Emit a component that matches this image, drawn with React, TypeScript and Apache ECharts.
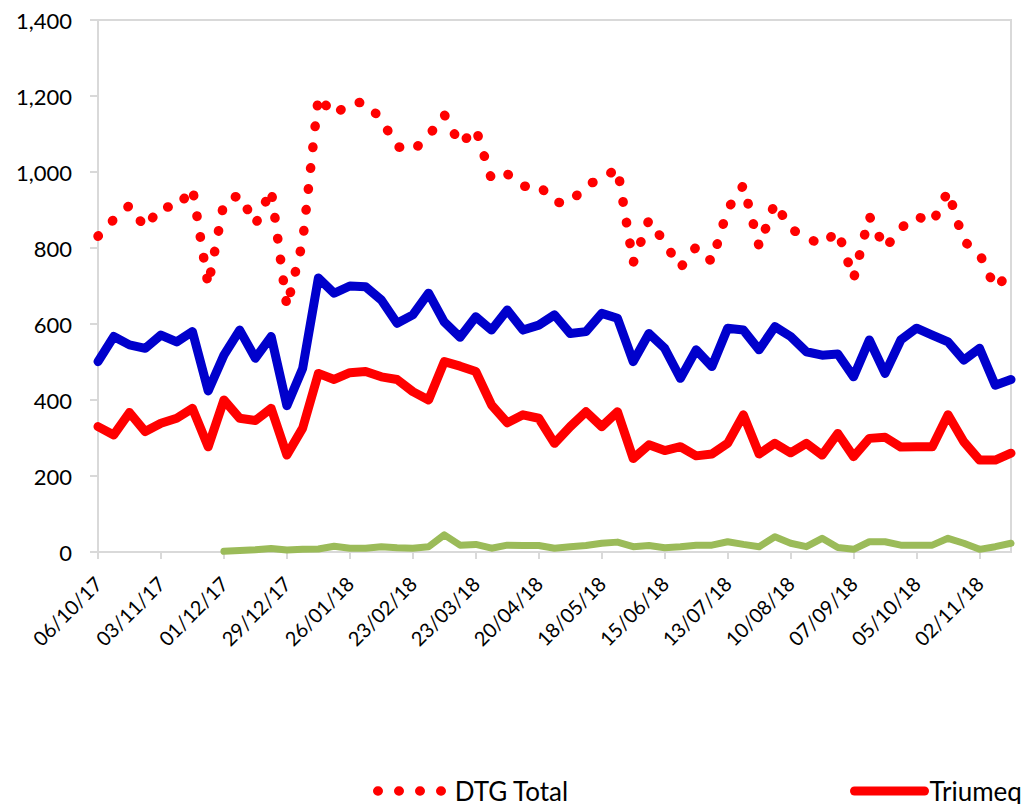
import React, { useEffect, useRef } from "react";
import * as echarts from "echarts";

// Weekly reporting dates (week ending)
const weeks: string[] = [
  "06/10/17", "13/10/17", "20/10/17", "27/10/17", "03/11/17", "10/11/17", "17/11/17", "24/11/17",
  "01/12/17", "08/12/17", "15/12/17", "22/12/17", "29/12/17", "05/01/18", "12/01/18", "19/01/18",
  "26/01/18", "02/02/18", "09/02/18", "16/02/18", "23/02/18", "02/03/18", "09/03/18", "16/03/18",
  "23/03/18", "30/03/18", "06/04/18", "13/04/18", "20/04/18", "27/04/18", "04/05/18", "11/05/18",
  "18/05/18", "25/05/18", "01/06/18", "08/06/18", "15/06/18", "22/06/18", "29/06/18", "06/07/18",
  "13/07/18", "20/07/18", "27/07/18", "03/08/18", "10/08/18", "17/08/18", "24/08/18", "31/08/18",
  "07/09/18", "14/09/18", "21/09/18", "28/09/18", "05/10/18", "12/10/18", "19/10/18", "26/10/18",
  "02/11/18", "09/11/18", "16/11/18",
];

const dtgTotal: number[] = [
  831, 875, 912, 853, 910, 905, 958, 701, 920, 940, 862, 954, 645, 816, 1199, 1150,
  1182, 1183, 1138, 1067, 1056, 1095, 1151, 1072, 1114, 981, 995, 962, 966, 920, 919, 966,
  981, 1010, 761, 874, 814, 748, 803, 764, 902, 965, 804, 919, 851, 827, 809, 845,
  719, 884, 799, 852, 884, 866, 950, 818, 785, 695, 737,
];

const triumeq: number[] = [
  330, 308, 367, 317, 339, 352, 378, 277, 400, 352, 346, 378, 255, 326, 470, 454,
  472, 475, 461, 454, 422, 400, 501, 489, 475, 387, 340, 361, 352, 286, 330, 369,
  330, 369, 246, 282, 267, 277, 253, 258, 286, 361, 258, 286, 261, 286, 255, 312,
  251, 299, 302, 276, 277, 277, 361, 290, 242, 242, 260,
];

const tivicay: number[] = [
  501, 567, 545, 536, 571, 553, 580, 424, 518, 584, 510, 567, 385, 483, 721, 681,
  700, 698, 663, 602, 624, 681, 605, 565, 619, 584, 637, 584, 597, 624, 575, 580,
  628, 615, 501, 575, 536, 457, 532, 488, 589, 584, 532, 593, 567, 527, 518, 521,
  461, 558, 470, 558, 589, 571, 553, 505, 536, 439, 454,
];

const juluca: (number | null)[] = [
  null, null, null, null, null, null, null, null, 2, 4, 6, 9, 5, 7, 8, 15,
  10, 10, 14, 11, 10, 14, 45, 18, 20, 10, 18, 17, 17, 10, 14, 17,
  23, 26, 14, 17, 11, 14, 18, 18, 27, 20, 14, 40, 23, 14, 36, 12,
  7, 27, 27, 18, 18, 18, 36, 23, 7, 14, 23,
];

const yTicks = { min: 0, max: 1400, step: 200 };

const FONT = "Lato, 'Open Sans', sans-serif";
const GREY = "#d9d9d9";
const DOT_DASH = [0.5, 20.5];

export default function App() {
  const ref = useRef<HTMLDivElement>(null);

  useEffect(() => {
    if (!ref.current) return;
    const chart = echarts.init(ref.current, null, { renderer: "svg" });

    chart.setOption({
      animation: false,
      backgroundColor: "#ffffff",
      textStyle: { fontFamily: FONT },
      grid: {
        left: 98,
        right: 19,
        top: 20,
        bottom: 252,
        outerBoundsMode: "none",
        show: true,
        borderColor: GREY,
        borderWidth: 2,
      },
      legend: [
        {
          data: ["DTG Total"],
          left: 373,
          top: 776,
          padding: 0,
          itemWidth: 72,
          itemHeight: 26,
          itemStyle: { opacity: 0 },
          lineStyle: { width: 9.5, type: DOT_DASH, cap: "round", color: "#ff0000" },
          textStyle: { fontFamily: FONT, fontSize: 26, color: "#000", lineHeight: 30 },
        },
        {
          data: ["Triumeq"],
          left: 850,
          top: 776,
          padding: 0,
          itemWidth: 70,
          itemHeight: 26,
          itemStyle: { opacity: 0 },
          lineStyle: { width: 9, type: "solid", cap: "round", color: "#ff0000" },
          textStyle: { fontFamily: FONT, fontSize: 26, color: "#000", lineHeight: 30 },
        },
      ],
      xAxis: {
        type: "category",
        data: weeks,
        boundaryGap: false,
        axisLine: { lineStyle: { color: GREY, width: 2 } },
        axisTick: { show: true, interval: 3, length: 7, lineStyle: { color: GREY, width: 2 } },
        axisLabel: {
          interval: 3,
          rotate: 45,
          margin: 28,
          fontSize: 20,
          fontFamily: FONT,
          color: "#000",
        },
        splitLine: { show: false },
      },
      yAxis: {
        type: "value",
        min: yTicks.min,
        max: yTicks.max,
        interval: yTicks.step,
        axisLine: { show: true, lineStyle: { color: GREY, width: 2 } },
        axisTick: { show: true, length: 8, lineStyle: { color: GREY, width: 2 } },
        axisLabel: {
          margin: 26,
          fontSize: 22,
          fontFamily: FONT,
          color: "#000",
          formatter: (v: number) => v.toLocaleString("en-US"),
        },
        splitLine: { show: false },
      },
      series: [
        {
          name: "DTG Total",
          type: "line",
          data: dtgTotal,
          symbol: "none",
          color: "#ff0000",
          lineStyle: { color: "#ff0000", width: 9.5, type: DOT_DASH, cap: "round", join: "round" },
          z: 2,
        },
        {
          name: "Triumeq",
          type: "line",
          data: triumeq,
          symbol: "none",
          color: "#ff0000",
          lineStyle: { color: "#ff0000", width: 9, cap: "round", join: "round" },
          z: 3,
        },
        {
          name: "Tivicay",
          type: "line",
          data: tivicay,
          symbol: "none",
          color: "#0000cc",
          lineStyle: { color: "#0000cc", width: 9, cap: "round", join: "round" },
          z: 4,
        },
        {
          name: "Juluca",
          type: "line",
          data: juluca,
          symbol: "none",
          color: "#9bbb59",
          lineStyle: { color: "#9bbb59", width: 7, cap: "round", join: "round" },
          z: 5,
        },
      ],
    });

    return () => chart.dispose();
  }, []);

  return (
    <div
      ref={ref}
      style={{ position: "fixed", left: 0, top: 0, width: 1030, height: 804, background: "#fff" }}
    />
  );
}
